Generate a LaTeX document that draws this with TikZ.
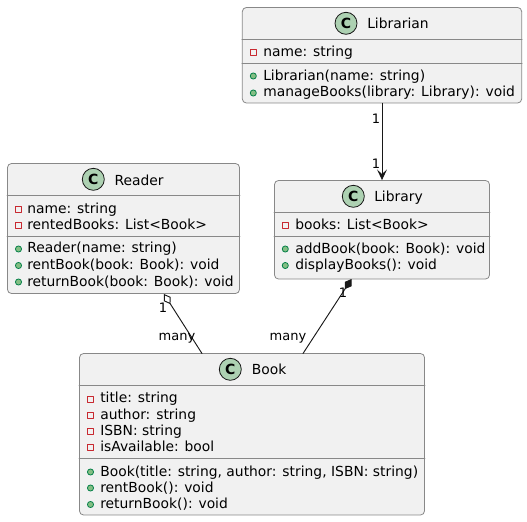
\documentclass[tikz,border=0pt]{standalone}
\usepackage{fontspec}
\setmainfont{DejaVu Sans}
\usepackage{tikz}
\usetikzlibrary{arrows.meta}
\definecolor{boxfill}{HTML}{F1F1F1}
\definecolor{boxline}{HTML}{888888}
\definecolor{linkline}{HTML}{181818}
\definecolor{iconfill}{HTML}{ADD1B2}
\definecolor{privline}{HTML}{C82930}
\definecolor{pubfill}{HTML}{84BE84}
\definecolor{publine}{HTML}{038048}
\tikzset{
classbox/.style={draw=boxline,fill=boxfill,line width=0.6pt,rounded corners=3pt,inner sep=0pt},
sepline/.style={draw=boxline,line width=0.6pt},
classicon/.style={circle,draw=linkline,fill=iconfill,line width=0.6pt,minimum size=16.5pt,inner sep=0pt,font=\bfseries\fontsize{10.5pt}{10.5pt}\selectfont},
classname/.style={anchor=base west,inner sep=0pt,font=\fontsize{10.4pt}{12pt}\selectfont},
membertext/.style={anchor=base west,inner sep=0pt,font=\fontsize{10.4pt}{12pt}\selectfont},
privmark/.style={draw=privline,line width=0.6pt,minimum size=4.6pt,inner sep=0pt},
pubmark/.style={circle,draw=publine,fill=pubfill,line width=0.6pt,minimum size=4.6pt,inner sep=0pt},
linktext/.style={inner sep=0pt,font=\fontsize{9.75pt}{12pt}\selectfont},
linkedge/.style={draw=linkline,line width=0.7pt}
}
\begin{document}
\begin{tikzpicture}[x=0.75pt,y=0.75pt,line cap=round,line join=round]
\useasboundingbox (0,0) rectangle (527,-521);
\node [classbox,minimum width=209.5pt,minimum height=71.6pt] (librarian) at (382,-55.25) {};
\node [classbox,minimum width=161.25pt,minimum height=73.9pt] (library) at (382,-229.75) {};
\node [classbox,minimum width=174pt,minimum height=97.5pt] (reader) at (123.5,-228.5) {};
\node [classbox,minimum width=258.75pt,minimum height=121.1pt] (book) at (252,-434.25) {};
\draw [sepline] (librarian.west |- 0,-39.5) -- (librarian.east |- 0,-39.5);
\draw [sepline] (librarian.west |- 0,-63.5) -- (librarian.east |- 0,-63.5);
\draw [sepline] (library.west |- 0,-212.5) -- (library.east |- 0,-212.5);
\draw [sepline] (library.west |- 0,-236.5) -- (library.east |- 0,-236.5);
\draw [sepline] (reader.west |- 0,-195.5) -- (reader.east |- 0,-195.5);
\draw [sepline] (reader.west |- 0,-236) -- (reader.east |- 0,-236);
\draw [sepline] (book.west |- 0,-385.5) -- (book.east |- 0,-385.5);
\draw [sepline] (book.west |- 0,-458) -- (book.east |- 0,-458);
\node [classicon] (librarianicon) at (346,-23.3) {C};
\node [classname] (librariantitle) at (367,-28) {Librarian};
\node [privmark] (mark1) at (253.3,-52.3) {};
\node [membertext] (text1) at (263,-56.7) {name: string};
\node [pubmark] (mark2) at (253.3,-76) {};
\node [membertext] (text2) at (263,-80) {Librarian(name: string)};
\node [pubmark] (mark3) at (253.3,-93) {};
\node [membertext] (text3) at (263,-96.7) {manageBooks(library: Library): void};
\node [classicon] (libraryicon) at (353.3,-196.3) {C};
\node [classname] (librarytitle) at (374,-201) {Library};
\node [privmark] (mark4) at (285.3,-225) {};
\node [membertext] (text4) at (295,-229.4) {books: List<Book>};
\node [pubmark] (mark5) at (285.3,-249) {};
\node [membertext] (text5) at (295,-253) {addBook(book: Book): void};
\node [pubmark] (mark6) at (285.3,-265.5) {};
\node [membertext] (text6) at (295,-269.5) {displayBooks(): void};
\node [classicon] (readericon) at (93.3,-179.3) {C};
\node [classname] (readertitle) at (114.3,-185) {Reader};
\node [privmark] (mark7) at (18.5,-209) {};
\node [membertext] (text7) at (27,-213) {name: string};
\node [privmark] (mark8) at (18.5,-225) {};
\node [membertext] (text8) at (27,-229.3) {rentedBooks: List<Book>};
\node [pubmark] (mark9) at (18.5,-249) {};
\node [membertext] (text9) at (27,-252.7) {Reader(name: string)};
\node [pubmark] (mark10) at (18.5,-265.5) {};
\node [membertext] (text10) at (27,-269.3) {rentBook(book: Book): void};
\node [pubmark] (mark11) at (18.5,-282) {};
\node [membertext] (text11) at (27,-286) {returnBook(book: Book): void};
\node [classicon] (bookicon) at (230.3,-369.3) {C};
\node [classname] (booktitle) at (251.7,-374) {Book};
\node [privmark] (mark12) at (90.5,-399.5) {};
\node [membertext] (text12) at (100,-402.5) {title: string};
\node [privmark] (mark13) at (90.5,-415) {};
\node [membertext] (text13) at (100,-419) {author: string};
\node [privmark] (mark14) at (90.5,-431.5) {};
\node [membertext] (text14) at (100,-435) {ISBN: string};
\node [privmark] (mark15) at (90.5,-447.5) {};
\node [membertext] (text15) at (100,-451.3) {isAvailable: bool};
\node [pubmark] (mark16) at (90.5,-472) {};
\node [membertext] (text16) at (100,-476) {Book(title: string, author: string, ISBN: string)};
\node [pubmark] (mark17) at (90.5,-488) {};
\node [membertext] (text17) at (100,-492) {rentBook(): void};
\node [pubmark] (mark18) at (90.5,-504.5) {};
\node [membertext] (text18) at (100,-508.3) {returnBook(): void};
\coordinate (readerend) at (164,-294);
\coordinate (bookleft) at (202,-353.5);
\coordinate (libraryend) at (351.5,-279);
\coordinate (bookright) at (303,-353.5);
\draw [linkedge,-{Stealth[length=8pt,width=7.5pt,inset=3.5pt]}] (librarian.south) -- (library.north);
\draw [linkedge,{Diamond[open,length=9pt,width=6pt]}-] (readerend) -- (bookleft);
\draw [linkedge,{Diamond[length=9pt,width=6pt]}-] (libraryend) -- (bookright);
\node [linktext] (label1) at (376,-118.5) {1};
\node [linktext] (label2) at (376,-164) {1};
\node [linktext] (label3) at (163,-307.5) {1};
\node [linktext] (label4) at (177,-338) {many};
\node [linktext] (label5) at (343,-292.5) {1};
\node [linktext] (label6) at (288,-338) {many};
\end{tikzpicture}
\end{document}
